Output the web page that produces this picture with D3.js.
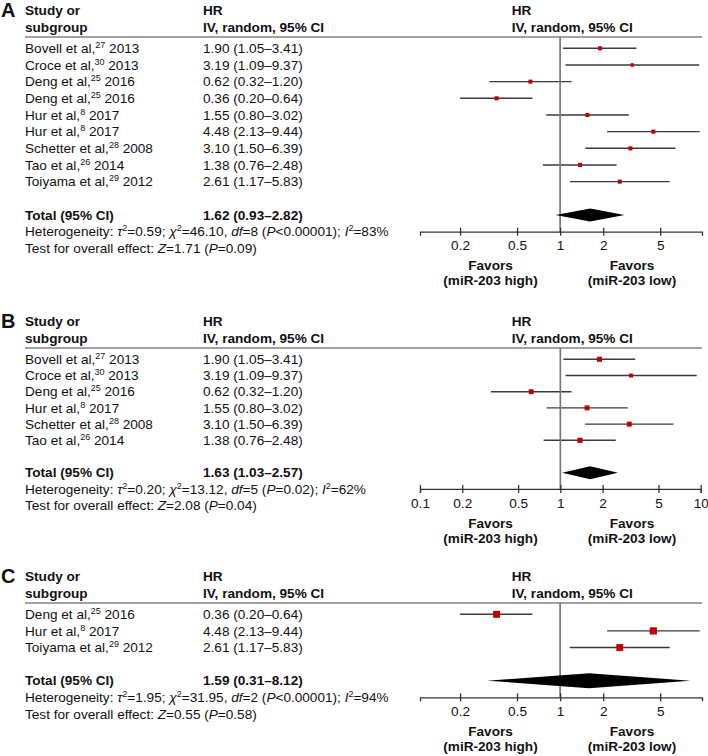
<!DOCTYPE html>
<html>
<head>
<meta charset="UTF-8">
<title>Forest plots miR-203</title>
<style>
  body { margin: 0; background: #fff; }
  svg { font-family: "Liberation Sans", Arial, sans-serif; }
  .txt { font-size: 13.6px; fill: #111; }
  .bold { font-weight: bold; }
  .letter { font-size: 20px; font-weight: bold; fill: #111; }
  .tick text { font-size: 13.6px; fill: #111; font-family: "Liberation Sans", Arial, sans-serif; }
</style>
</head>
<body>
<svg></svg>
<script src="https://d3js.org/d3.v7.min.js"></script>
<script>

let width = 708, height = 756;

// ---- panel A ----
var authorsA = ["Bovell et al,", "Croce et al,", "Deng et al,", "Deng et al,", "Hur et al,", "Hur et al,", "Schetter et al,", "Tao et al,", "Toiyama et al,"];
var refsA = ["27", "30", "25", "25", "8", "8", "28", "26", "29"];
var yearsA = ["2013", "2013", "2016", "2016", "2017", "2017", "2008", "2014", "2012"];
var hrA = [1.90, 3.19, 0.62, 0.36, 1.55, 4.48, 3.10, 1.38, 2.61];
var loA = [1.05, 1.09, 0.32, 0.20, 0.80, 2.13, 1.50, 0.76, 1.17];
var hiA = [3.41, 9.37, 1.20, 0.64, 3.02, 9.44, 6.39, 2.48, 5.83];
var weightA = [11.4, 8.6, 11.2, 11.3, 11.2, 11.5, 11.4, 11.8, 11.4];
var totalA = [1.62, 0.93, 2.82];
var hetA = ["0.59", "46.10", "8", "<0.00001", "83"];
var testA = ["1.71", "=0.09"];
var ticksA = [0.2, 0.5, 1, 2, 5];

// ---- panel B ----
var authorsB = ["Bovell et al,", "Croce et al,", "Deng et al,", "Hur et al,", "Schetter et al,", "Tao et al,"];
var refsB = ["27", "30", "25", "8", "28", "26"];
var yearsB = ["2013", "2013", "2016", "2017", "2008", "2014"];
var hrB = [1.90, 3.19, 0.62, 1.55, 3.10, 1.38];
var loB = [1.05, 1.09, 0.32, 0.80, 1.50, 0.76];
var hiB = [3.41, 9.37, 1.20, 3.02, 6.39, 2.48];
var weightB = [17.8, 11.0, 16.6, 16.8, 16.8, 18.6];
var totalB = [1.63, 1.03, 2.57];
var hetB = ["0.20", "13.12", "5", "=0.02", "62"];
var testB = ["2.08", "=0.04"];
var ticksB = [0.1, 0.2, 0.5, 1, 2, 5, 10];

// ---- panel C ----
var authorsC = ["Deng et al,", "Hur et al,", "Toiyama et al,"];
var refsC = ["25", "8", "29"];
var yearsC = ["2016", "2017", "2012"];
var hrC = [0.36, 4.48, 2.61];
var loC = [0.20, 2.13, 1.17];
var hiC = [0.64, 9.44, 5.83];
var weightC = [33.5, 36.0, 32.5];
var totalC = [1.59, 0.31, 8.12];
var hetC = ["1.95", "31.95", "2", "<0.00001", "94"];
var testC = ["0.55", "=0.58"];
var ticksC = [0.2, 0.5, 1, 2, 5];

let svg = d3.select("svg")
    .attr("width", width)
    .attr("height", height);

// layout per panel
var panels = [
  {letter: "A", top: 10, rowH: 16.67, dom: [0.105, 9.8], rng: [420, 702], dh: 13,
   authors: authorsA, refs: refsA, years: yearsA, hr: hrA, lo: loA, hi: hiA, w: weightA,
   total: totalA, het: hetA, test: testA, ticks: ticksA},
  {letter: "B", top: 321, rowH: 16.2, dom: [0.1, 10], rng: [420, 700.7], dh: 13,
   authors: authorsB, refs: refsB, years: yearsB, hr: hrB, lo: loB, hi: hiB, w: weightB,
   total: totalB, het: hetB, test: testB, ticks: ticksB},
  {letter: "C", top: 576, rowH: 16.6, dom: [0.105, 9.8], rng: [420, 702], dh: 15,
   authors: authorsC, refs: refsC, years: yearsC, hr: hrC, lo: loC, hi: hiC, w: weightC,
   total: totalC, het: hetC, test: testC, ticks: ticksC}
];

var sizeScale = d3.scaleSqrt().domain([0, 100]).range([0, 12]);
var fmt = d3.format(".2f");
var col1 = 25, col2 = 203, col3 = 511.7;

function ci(h, l, u) {
  return fmt(h) + " (" + fmt(l) + "\u2013" + fmt(u) + ")";
}

panels.forEach(function (p) {
  var g = svg.append("g");
  var x = d3.scaleLog().domain(p.dom).range(p.rng);
  var y0 = p.top;
  var lineY = y0 + 27;
  var rowY = function (i) { return y0 + 38.3 + i * p.rowH; };
  var n = p.hr.length;
  var totalY = rowY(n - 1) + 2 * p.rowH;
  var hetY = totalY + p.rowH;
  var testY = hetY + p.rowH;
  var axisY = hetY;

  // panel letter + headers
  g.append("text").attr("class", "letter").attr("x", 1).attr("y", y0).attr("dy", "0.36em").text(p.letter);
  [[col1, "Study or", "subgroup"], [col2, "HR", "IV, random, 95% CI"], [col3, "HR", "IV, random, 95% CI"]]
    .forEach(function (h) {
      g.append("text").attr("class", "txt bold").attr("x", h[0]).attr("y", y0).attr("dy", "0.35em").text(h[1]);
      g.append("text").attr("class", "txt bold").attr("x", h[0]).attr("y", y0 + 17).attr("dy", "0.35em").text(h[2]);
    });
  g.append("line")
    .attr("x1", col1).attr("x2", 702)
    .attr("y1", lineY).attr("y2", lineY)
    .attr("stroke", "#444").attr("stroke-width", 1.1);

  // study labels
  var rows = g.selectAll(".row").data(d3.range(n)).enter().append("g").attr("class", "row");
  var lbl = rows.append("text").attr("class", "txt")
      .attr("x", col1).attr("y", function (i) { return rowY(i); }).attr("dy", "0.35em");
  lbl.append("tspan").text(function (i) { return p.authors[i]; });
  lbl.append("tspan").attr("font-size", "9px").attr("dy", -5).text(function (i) { return p.refs[i]; });
  lbl.append("tspan").attr("dy", 5).text(function (i) { return " " + p.years[i]; });

  rows.append("text").attr("class", "txt")
      .attr("x", col2).attr("y", function (i) { return rowY(i); }).attr("dy", "0.35em")
      .text(function (i) { return ci(p.hr[i], p.lo[i], p.hi[i]); });

  // vertical line of no effect
  g.append("line")
    .attr("x1", x(1)).attr("x2", x(1))
    .attr("y1", lineY).attr("y2", axisY)
    .attr("stroke", "#777").attr("stroke-width", 1.7);

  // CI whiskers
  rows.append("line")
    .attr("x1", function (i) { return x(p.lo[i]); })
    .attr("x2", function (i) { return x(Math.min(p.hi[i], p.dom[1])); })
    .attr("y1", function (i) { return rowY(i); })
    .attr("y2", function (i) { return rowY(i); })
    .attr("stroke", "#3a3a3a").attr("stroke-width", 1.4);

  // weight boxes
  rows.append("rect")
    .attr("x", function (i) { return x(p.hr[i]) - sizeScale(p.w[i]) / 2; })
    .attr("y", function (i) { return rowY(i) - sizeScale(p.w[i]) / 2; })
    .attr("width", function (i) { return sizeScale(p.w[i]); })
    .attr("height", function (i) { return sizeScale(p.w[i]); })
    .attr("fill", "#c00000");

  // total row
  g.append("text").attr("class", "txt bold").attr("x", col1).attr("y", totalY).attr("dy", "0.35em").text("Total (95% CI)");
  g.append("text").attr("class", "txt bold").attr("x", col2).attr("y", totalY).attr("dy", "0.35em")
    .text(ci(p.total[0], p.total[1], p.total[2]));

  var t = p.total;
  g.append("path")
    .attr("d", "M" + x(t[1]) + "," + totalY +
               "L" + x(t[0]) + "," + (totalY - p.dh / 2) +
               "L" + x(t[2]) + "," + totalY +
               "L" + x(t[0]) + "," + (totalY + p.dh / 2) + "Z")
    .attr("fill", "#000");

  // heterogeneity line
  var het = g.append("text").attr("class", "txt").attr("x", col1).attr("y", hetY).attr("dy", "0.35em");
  het.append("tspan").text("Heterogeneity: ");
  het.append("tspan").attr("font-style", "italic").text("\u03c4");
  het.append("tspan").attr("font-size", "9px").attr("dy", -5).text("2");
  het.append("tspan").attr("dy", 5).text("=" + p.het[0] + "; ");
  het.append("tspan").attr("font-style", "italic").text("\u03c7");
  het.append("tspan").attr("font-size", "9px").attr("dy", -5).text("2");
  het.append("tspan").attr("dy", 5).text("=" + p.het[1] + ", ");
  het.append("tspan").attr("font-style", "italic").text("df");
  het.append("tspan").text("=" + p.het[2] + " (");
  het.append("tspan").attr("font-style", "italic").text("P");
  het.append("tspan").text(p.het[3] + "); ");
  het.append("tspan").attr("font-style", "italic").text("I");
  het.append("tspan").attr("font-size", "9px").attr("dy", -5).text("2");
  het.append("tspan").attr("dy", 5).text("=" + p.het[4] + "%");

  var test = g.append("text").attr("class", "txt").attr("x", col1).attr("y", testY).attr("dy", "0.35em");
  test.append("tspan").text("Test for overall effect: ");
  test.append("tspan").attr("font-style", "italic").text("Z");
  test.append("tspan").text("=" + p.test[0] + " (");
  test.append("tspan").attr("font-style", "italic").text("P");
  test.append("tspan").text(p.test[1] + ")");

  // axis
  var ax = g.append("g")
    .attr("transform", "translate(0," + axisY + ")")
    .call(d3.axisBottom(x).tickValues(p.ticks).tickFormat(d3.format("")).tickSizeOuter(0).tickSize(4));
  ax.select(".domain").attr("stroke", "#333").attr("stroke-width", 1.3);
  ax.selectAll(".tick line").attr("y1", -4).attr("y2", 4).attr("stroke", "#333").attr("stroke-width", 1.3);
  ax.selectAll(".tick text").attr("y", 14).attr("dy", "0.35em");

  // favors labels
  [[490.5, "(miR-203 high)"], [632, "(miR-203 low)"]].forEach(function (f) {
    g.append("text").attr("class", "txt bold").attr("text-anchor", "middle")
      .attr("x", f[0]).attr("y", axisY + 34).attr("dy", "0.35em").text("Favors");
    g.append("text").attr("class", "txt bold").attr("text-anchor", "middle")
      .attr("x", f[0]).attr("y", axisY + 49).attr("dy", "0.35em").text(f[1]);
  });
});

</script>
</body>
</html>
